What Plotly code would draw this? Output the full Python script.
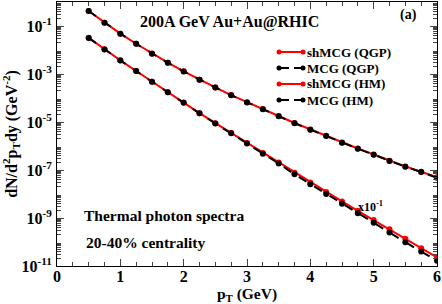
import plotly.graph_objects as go

pt = [0.5, 0.75, 1.0, 1.25, 1.5, 1.75, 2.0, 2.25, 2.5, 2.75, 3.0, 3.25, 3.5,
      3.75, 4.0, 4.25, 4.5, 4.75, 5.0, 5.25, 5.5, 5.75, 6.0]

shmcg_qgp = [0.42, 0.138, 0.0479, 0.0182, 7.08e-3, 2.95e-3, 1.29e-3, 5.75e-4, 2.75e-4,
             1.32e-4, 6.6e-5, 3.47e-5, 1.78e-5, 9.1e-6, 4.9e-6, 2.69e-6, 1.41e-6,
             7.9e-7, 4.47e-7, 2.45e-7, 1.41e-7, 8.5e-8, 5.0e-8]
mcg_qgp = [0.42, 0.138, 0.0478, 0.0181, 7.05e-3, 2.93e-3, 1.28e-3, 5.7e-4, 2.72e-4,
           1.30e-4, 6.5e-5, 3.4e-5, 1.74e-5, 8.9e-6, 4.78e-6, 2.62e-6, 1.37e-6,
           7.7e-7, 4.33e-7, 2.37e-7, 1.36e-7, 8.2e-8, 4.8e-8]
shmcg_hm = [0.324, 0.107, 0.0372, 0.0133, 4.79e-3, 1.74e-3, 6.46e-4, 2.34e-4, 8.9e-5,
            3.47e-5, 1.32e-5, 5.13e-6, 2.04e-6, 7.6e-7, 3.02e-7, 1.20e-7, 4.9e-8,
            2.0e-8, 8.3e-9, 3.39e-9, 1.35e-9, 5.5e-10, 2.29e-10]
mcg_hm = [0.32, 0.106, 0.0368, 0.0132, 4.74e-3, 1.72e-3, 6.38e-4, 2.3e-4, 8.7e-5,
          3.38e-5, 1.26e-5, 4.8e-6, 1.86e-6, 6.6e-7, 2.57e-7, 1.0e-7, 3.9e-8,
          1.58e-8, 6.3e-9, 2.5e-9, 9.8e-10, 4.0e-10, 1.66e-10]
hm_scale = 0.1

y_tickvals = [1e-11, 1e-9, 1e-7, 1e-5, 1e-3, 1e-1]
y_ticktext = ["10<sup>-11</sup>", "10<sup>-9</sup>", "10<sup>-7</sup>",
              "10<sup>-5</sup>", "10<sup>-3</sup>", "10<sup>-1</sup>"]

FONT = "Liberation Serif"
RED = "#ff0000"
BLACK = "#000000"

W, H = 442, 304
ML, MR, MT, MB = 57, 5, 2, 38
PW, PH = W - ML - MR, H - MT - MB


def px(x):
    return (x - ML) / PW


def py(y):
    return (H - MB - y) / PH


def bfont(size):
    return dict(family=FONT, size=size, color="black", weight="bold")


fig = go.Figure()
series = [
    ("shMCG (QGP)", shmcg_qgp, 1.0, RED, "solid"),
    ("MCG (QGP)", mcg_qgp, 1.0, BLACK, "dash"),
    ("shMCG (HM)", shmcg_hm, hm_scale, RED, "solid"),
    ("MCG (HM)", mcg_hm, hm_scale, BLACK, "dash"),
]
for name, vals, sc, col, dash in series:
    fig.add_trace(go.Scatter(
        x=pt, y=[v * sc for v in vals], name=name, mode="lines+markers",
        line=dict(color=col, width=2, dash=dash),
        marker=dict(color=col, size=6, symbol="circle"),
        showlegend=False,
    ))

# manual legend (pixel layout)
leg_rows = [52, 68, 84, 100]
for (name, _, _, col, dash), ry in zip(series, leg_rows):
    x0, x1 = 279, 303
    if dash == "solid":
        fig.add_shape(type="line", xref="paper", yref="paper",
                      x0=px(x0), x1=px(x1), y0=py(ry), y1=py(ry),
                      line=dict(color=col, width=2))
    else:
        for a, b in [(x0, 289), (294, x1)]:
            fig.add_shape(type="line", xref="paper", yref="paper",
                          x0=px(a), x1=px(b), y0=py(ry), y1=py(ry),
                          line=dict(color=col, width=2))
    for cx in (x0, x1):
        fig.add_shape(type="circle", xref="paper", yref="paper",
                      x0=px(cx - 2.5), x1=px(cx + 2.5), y0=py(ry + 2.5), y1=py(ry - 2.5),
                      line=dict(color=col, width=0), fillcolor=col)
    fig.add_annotation(x=px(305), y=py(ry), xref="paper", yref="paper", text=name,
                       showarrow=False, xanchor="left", yanchor="middle",
                       font=bfont(13))

minor_vals = [m * 10.0 ** e for e in range(-11, 0) for m in range(2, 10)]

fig.update_layout(
    width=W, height=H,
    margin=dict(l=ML, r=MR, t=MT, b=MB),
    paper_bgcolor="white", plot_bgcolor="white",
    font=bfont(15),
    showlegend=False,
    xaxis=dict(range=[0, 6], dtick=1, ticks="inside", ticklen=7, tickwidth=1,
               showline=True, linecolor="black", linewidth=1, mirror="ticks",
               showgrid=False, zeroline=False, automargin=False,
               tickfont=bfont(16), ticklabelstandoff=-4,
               minor=dict(dtick=0.25, ticks="inside", ticklen=4, showgrid=False),
               title=dict(text="p<sub>T</sub> (GeV)", font=bfont(15.5), standoff=0)),
    yaxis=dict(type="log", range=[-11, 0], tickvals=y_tickvals,
               ticktext=y_ticktext,
               ticks="inside", ticklen=7, tickwidth=1,
               showline=True, linecolor="black", linewidth=1, mirror="ticks",
               showgrid=False, zeroline=False, automargin=False,
               tickfont=bfont(16), ticklabelstandoff=1,
               minor=dict(tickvals=minor_vals, ticks="inside", ticklen=4, showgrid=False),
               title=dict(text="dN/d<sup>2</sup>p<sub>T</sub>dy (GeV<sup>-2</sup>)",
                          font=bfont(16), standoff=3)),
)

annos = [
    dict(x=0.455, y=0.925, text="200A GeV Au+Au@RHIC", size=16, xanchor="center", yanchor="middle"),
    dict(x=0.952, y=0.950, text="(a)", size=14, xanchor="right", yanchor="middle"),
    dict(x=0.825, y=0.26, text="x10<sup>-1</sup>", size=12, xanchor="center", yanchor="top"),
    dict(x=0.065, y=0.19, text="Thermal photon spectra", size=15.5, xanchor="left", yanchor="middle"),
    dict(x=0.072, y=0.09, text="20-40% centrality", size=15.5, xanchor="left", yanchor="middle"),
]
for a in annos:
    fig.add_annotation(x=a["x"], y=a["y"], xref="paper", yref="paper", text=a["text"],
                       showarrow=False, xanchor=a["xanchor"], yanchor=a["yanchor"],
                       font=bfont(a["size"]))

fig.write_html("out.html", config={"displayModeBar": False},
               post_script="document.body.style.margin='0';")
